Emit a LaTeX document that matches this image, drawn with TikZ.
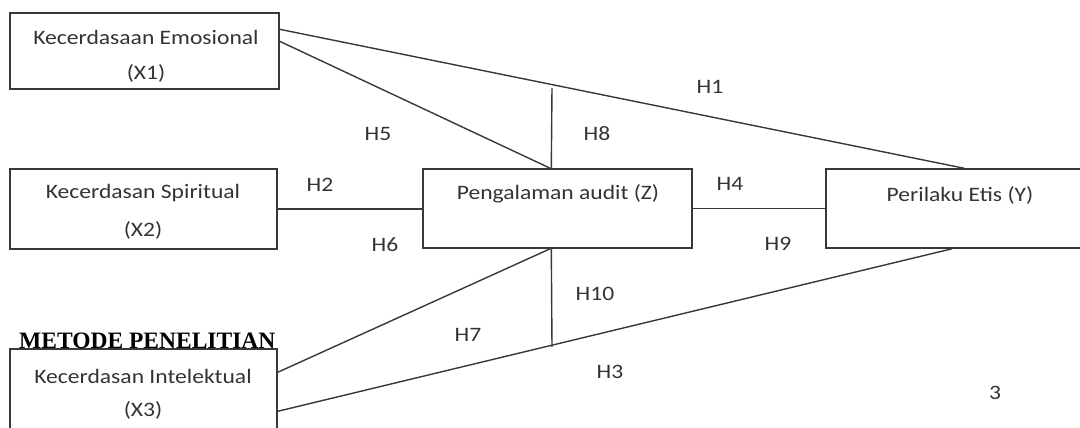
\documentclass[tikz,border=0pt]{standalone}
\usepackage{fontspec}
\setmainfont{Carlito}[FakeStretch=1.15]
\newfontfamily\headfont{Liberation Serif}
\usetikzlibrary{calc}
\definecolor{txt}{HTML}{333333}
\definecolor{ln}{HTML}{383838}
\begin{document}
\begin{tikzpicture}[x=1pt,y=-1pt,
  box/.style={draw=ln,line width=1.4pt,rectangle,inner sep=0pt},
  conn/.style={draw=ln,line width=1.4pt},
  lbl/.style={text=txt,font=\fontsize{20.5}{24}\selectfont,inner sep=0pt,anchor=center},
  hyp/.style={text=txt,font=\fontsize{20.5}{24}\selectfont,inner sep=0pt,anchor=center}]
\useasboundingbox (0,0) rectangle (1080,428);
\clip (0,0) rectangle (1080,428);
% boxes
\node[box,minimum width=269pt,minimum height=76pt] (x1) at (144.5,51) {};
\node[box,minimum width=267pt,minimum height=80pt] (x2) at (143.5,209) {};
\node[box,minimum width=267pt,minimum height=92pt] (x3) at (143.5,395) {};
\node[box,minimum width=269pt,minimum height=79pt] (z) at (557.5,208.5) {};
\node[box,minimum width=274pt,minimum height=79pt] (y) at (963,208.5) {};
% box texts
\node[lbl] (t1a) at (146,37) {Kecerdasaan Emosional};
\node[lbl] (t1b) at (146,73) {(X1)};
\node[lbl] (t2a) at (143,193) {Kecerdasan Spiritual};
\node[lbl] (t2b) at (143,230) {(X2)};
\node[lbl] (t3a) at (143,376) {Kecerdasan Intelektual};
\node[lbl] (t3b) at (143,410) {(X3)};
\node[lbl] (tz) at (558,194) {Pengalaman audit (Z)};
\node[lbl] (ty) at (960,195) {Perilaku Etis (Y)};
% connectors
\coordinate (h8top) at (552,88);
\coordinate (h10bot) at (552,347);
\draw[conn] ([yshift=-17pt]x1.north east) -- ([xshift=139pt]y.north west);
\draw[conn] ([yshift=-29pt]x1.north east) -- ([xshift=128pt]z.north west);
\draw[conn] (h8top) -- ([xshift=129pt]z.north west);
\draw[conn] (x2.east) -- (x2.east -| z.west);
\draw[conn] (z.east) -- (y.west);
\draw[conn] ([yshift=-24pt]x3.north east) -- ([xshift=128pt]z.south west);
\draw[conn] ([xshift=129pt]z.south west) -- (h10bot);
\draw[conn] ([yshift=-63pt]x3.north east) -- ([xshift=127pt]y.south west);
% heading overlapping box
\node[text=black,font=\headfont\bfseries\fontsize{23.5}{26}\selectfont,inner sep=0pt,anchor=base west] (head) at (19,348) {METODE PENELITIAN};
% hypothesis labels
\node[hyp] (lh1) at (710,87) {H1};
\node[hyp] (lh5) at (378,134) {H5};
\node[hyp] (lh8) at (597,134) {H8};
\node[hyp] (lh2) at (320,185) {H2};
\node[hyp] (lh4) at (730,184) {H4};
\node[hyp] (lh6) at (385,245) {H6};
\node[hyp] (lh9) at (778,244) {H9};
\node[hyp] (lh10) at (595,294) {H10};
\node[hyp] (lh7) at (468,335) {H7};
\node[hyp] (lh3) at (610,372) {H3};
\node[hyp] (pg) at (995,393) {3};
\end{tikzpicture}
\end{document}
